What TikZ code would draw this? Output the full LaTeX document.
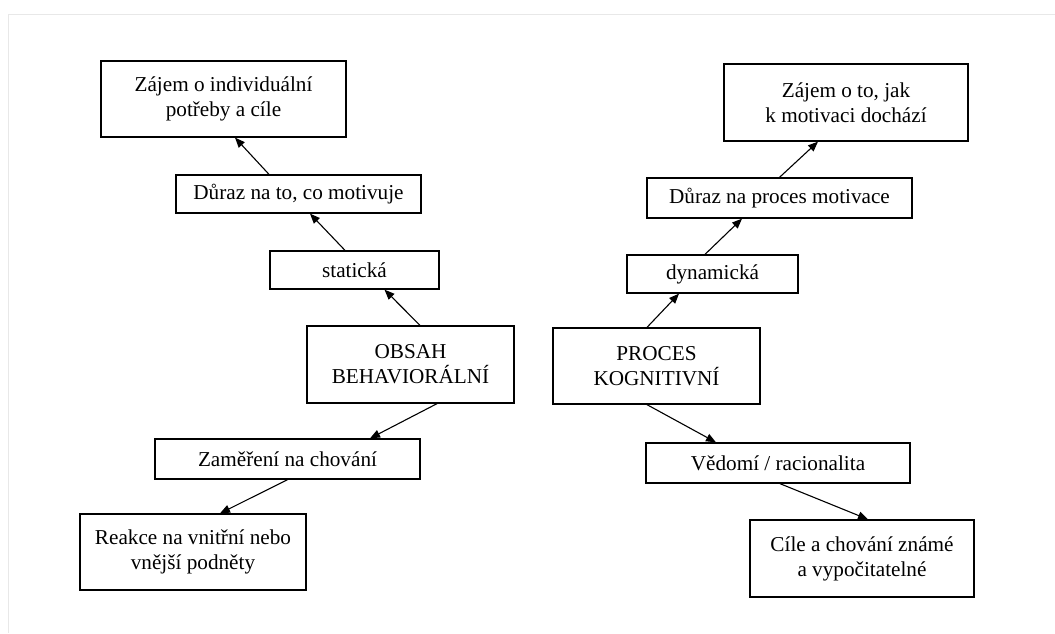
\documentclass[tikz,border=0pt]{standalone}
\usepackage{fontspec}
\setmainfont{Liberation Serif}
\usetikzlibrary{arrows.meta}
\tikzset{box/.style={draw,line width=1.3pt,align=center,inner sep=0pt,font=\fontsize{21.2}{25}\selectfont},
arr/.style={-{Triangle[length=10pt,width=8pt]},line width=1.1pt}}
\begin{document}
\begin{tikzpicture}[x=1pt,y=-1pt]
\useasboundingbox(0,0)rectangle(1055,633);
\draw[gray!18,line width=1pt](8,633)--(8,14)--(1055,14);
% left branch
\node[box,minimum width=245,minimum height=76](zajem)at(223.5,99){Zájem o individuální\\potřeby a cíle};
\node[box,minimum width=245,minimum height=38](duraz)at(298.5,194){Důraz na to, co motivuje};
\node[box,minimum width=169,minimum height=38](stat)at(354.5,270){statická};
\node[box,minimum width=207,minimum height=77](obsah)at(410.5,364.5){OBSAH\\BEHAVIORÁLNÍ};
\node[box,minimum width=265,minimum height=40](zamer)at(287.5,459){Zaměření na chování};
\node[box,minimum width=226,minimum height=76](reakce)at(193,552){Reakce na vnitřní nebo\\vnější podněty};
% right branch
\node[box,minimum width=244,minimum height=77](zajemb)at(846,102.5){Zájem o to, jak\\k motivaci dochází};
\node[box,minimum width=265,minimum height=40](durazb)at(779.5,198){Důraz na proces motivace};
\node[box,minimum width=171,minimum height=38](dyn)at(712.5,274){dynamická};
\node[box,minimum width=207,minimum height=76](proces)at(656.5,366){PROCES\\KOGNITIVNÍ};
\node[box,minimum width=264,minimum height=40](vedomi)at(778,463){Vědomí / racionalita};
\node[box,minimum width=224,minimum height=77](cile)at(862,558.5){Cíle a chování známé\\a vypočitatelné};
% arrows
\draw[arr]([xshift=9.5]obsah.north)--([xshift=30]stat.south);
\draw[arr]([xshift=-9.5]stat.north)--([xshift=11.5]duraz.south);
\draw[arr]([xshift=-29.5]duraz.north)--([xshift=11.5]zajem.south);
\draw[arr]([xshift=26.5]obsah.south)--([xshift=82.5]zamer.north);
\draw[arr](zamer.south)--([xshift=27]reakce.north);
\draw[arr]([xshift=-9.5]proces.north)--([xshift=-33.5]dyn.south);
\draw[arr]([xshift=-7.5]dyn.north)--([xshift=-37.5]durazb.south);
\draw[arr](durazb.north)--([xshift=-28]zajemb.south);
\draw[arr]([xshift=-9.5]proces.south)--([xshift=-62]vedomi.north);
\draw[arr]([xshift=2]vedomi.south)--([xshift=6]cile.north);
\end{tikzpicture}
\end{document}
